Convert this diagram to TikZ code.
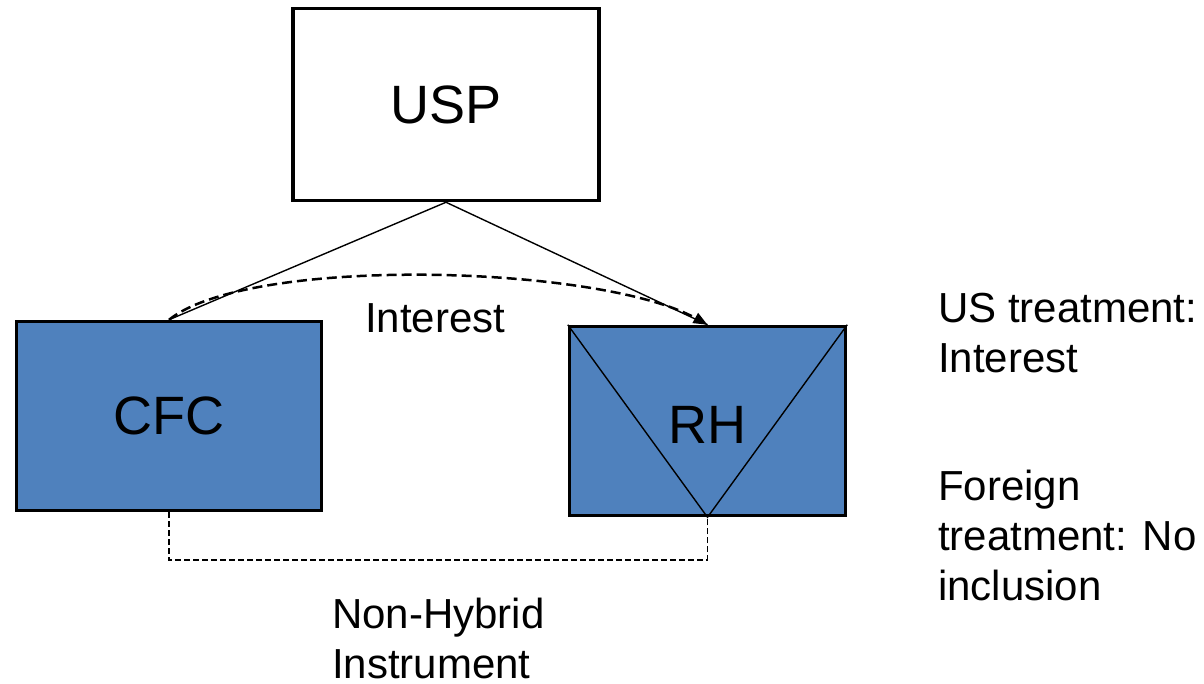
\documentclass[tikz,border=0pt]{standalone}
\usepackage{fontspec}
\setmainfont{Liberation Sans}
\usetikzlibrary{arrows.meta}
\definecolor{boxblue}{HTML}{4F81BD}
\begin{document}
\begin{tikzpicture}[x=1pt,y=-1pt,
  entity/.style={draw=black, line width=3.5pt, inner sep=0pt, font=\fontsize{54}{60}\selectfont},
  txt/.style={inner sep=0pt, align=left, font=\fontsize{42}{50}\selectfont},
  link/.style={line width=1.4pt},
  flow/.style={line width=2.5pt, dash pattern=on 10pt off 5pt, -{Triangle[length=14pt,width=11pt]}},
  instr/.style={line width=1.3pt, dash pattern=on 6pt off 3pt}]
\fill[white] (0,0) rectangle (1204,683);
\useasboundingbox (0,0) rectangle (1204,683);

\node[entity, fill=white, minimum width=306pt, minimum height=192pt] (usp) at (446,104.5) {USP};
\node[entity, fill=boxblue, minimum width=305pt, minimum height=189pt] (cfc) at (169,416) {CFC};
\node[entity, fill=boxblue, minimum width=276pt, minimum height=189pt] (rh) at (707.5,421) {};
\draw[link] (rh.north west) -- (rh.south) -- (rh.north east);
\node[font=\fontsize{54}{60}\selectfont] (rhl) at (707.5,425) {RH};

\draw[link] (usp.south) -- (cfc.north);
\draw[link] (usp.south) -- (rh.north);
\draw[flow] (cfc.north) .. controls (250,255) and (600,265) .. (rh.north);

\coordinate (cb) at (169,560);
\coordinate (rb) at (707.5,560);
\draw[instr] (cfc.south) -- (cb) -- (rb) -- (rh.south);

\node[txt, anchor=base west] (intl) at (365,332) {Interest};
\node[txt, anchor=north west] (ustr) at (938,293) {US treatment:\\Interest};
\node[txt, anchor=north west] (fotr) at (938,470) {Foreign\\treatment: No\\inclusion};
\node[txt, anchor=north west] (nhi) at (332,598) {Non-Hybrid\\Instrument};
\end{tikzpicture}
\end{document}
